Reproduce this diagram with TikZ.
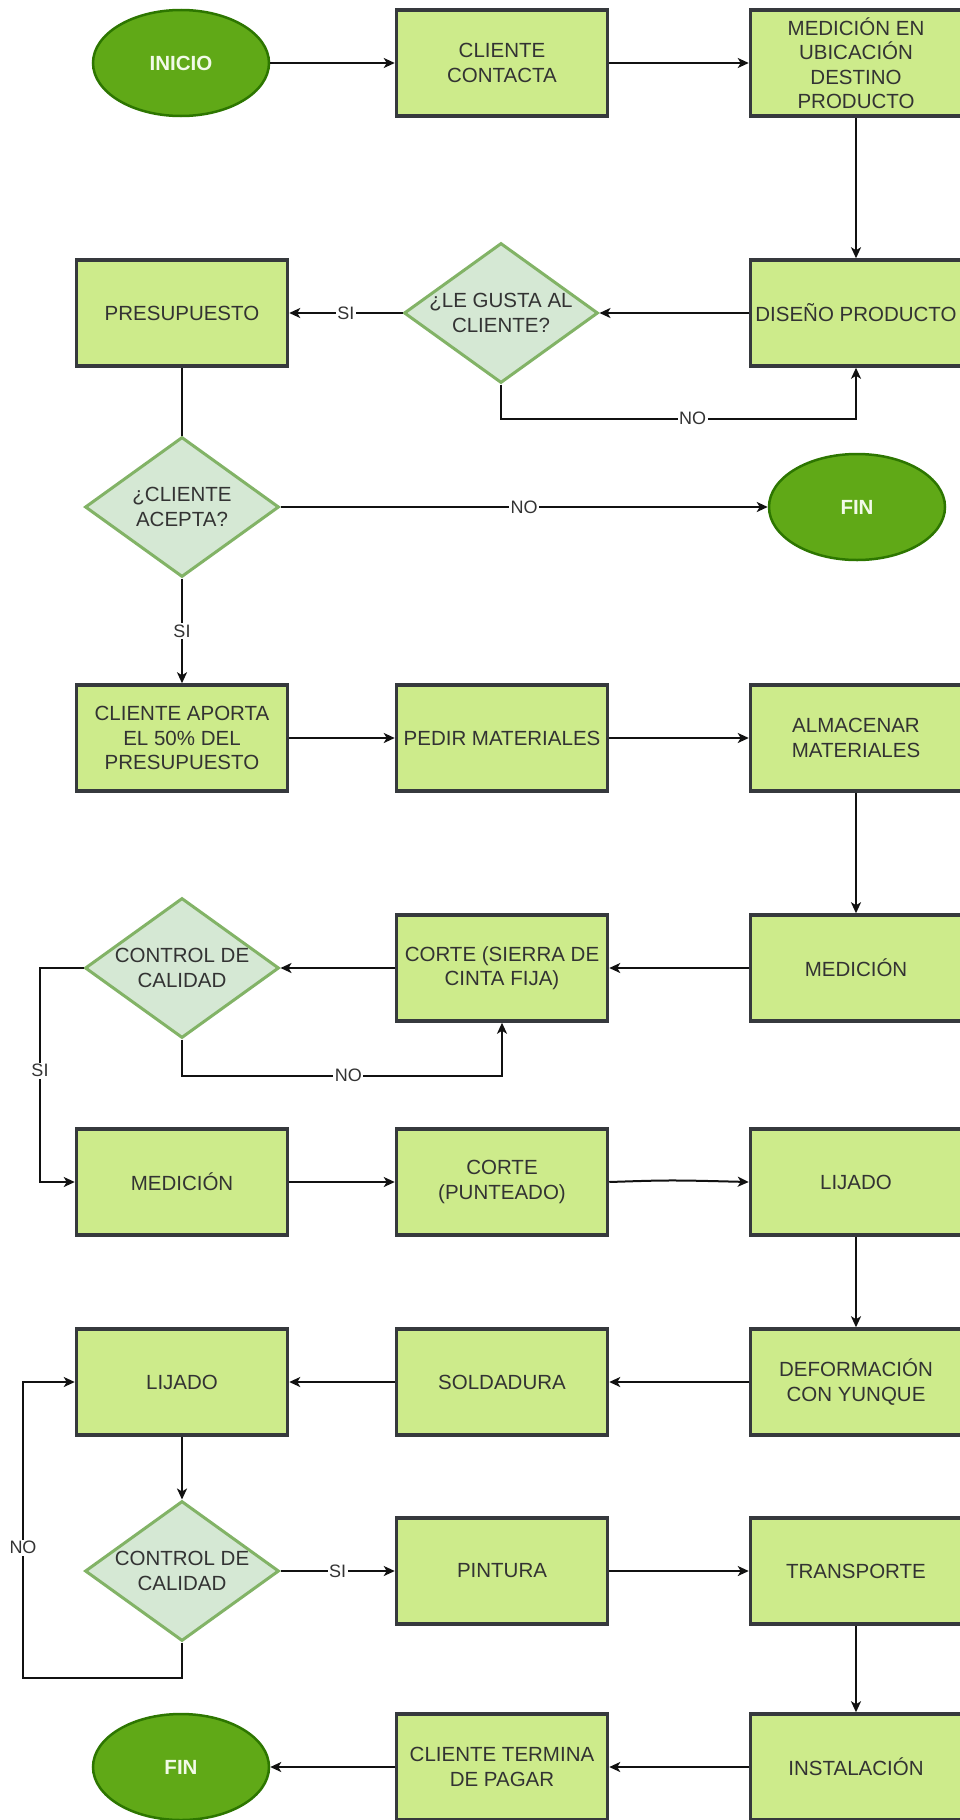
\documentclass[tikz,border=0pt]{standalone}
\usepackage{fontspec}
\setmainfont{Liberation Sans}
\usetikzlibrary{shapes.geometric,arrows.meta}
\definecolor{boxfill}{HTML}{CDEB8B}
\definecolor{boxline}{HTML}{36393D}
\definecolor{dfill}{HTML}{D5E8D4}
\definecolor{dline}{HTML}{82B366}
\definecolor{efill}{HTML}{60A917}
\definecolor{eline}{HTML}{2D7600}
\definecolor{etext}{HTML}{F2FAE8}
\definecolor{txt}{HTML}{333333}
\definecolor{conn}{HTML}{111111}
\newcommand\dl[1]{\makebox[90pt]{#1}}
\begin{document}
\begin{tikzpicture}[x=1pt,y=-1pt,
  proc/.style={rectangle,draw=boxline,fill=boxfill,line width=3.5pt,
    minimum width=211pt,minimum height=106pt,inner sep=2pt,align=center,
    text=txt,font=\fontsize{20.5}{24.5}\selectfont},
  term/.style={ellipse,draw=eline,fill=efill,line width=2.5pt,
    minimum width=176pt,minimum height=106pt,inner sep=0pt,align=center,
    text=etext,font=\fontsize{20.5}{24.5}\selectfont\bfseries},
  dec/.style={diamond,aspect=1.38,draw=dline,fill=dfill,line width=3pt,
    minimum width=194pt,minimum height=140pt,inner sep=0pt,align=center,
    text=txt,font=\fontsize{20.5}{24.5}\selectfont},
  arr/.style={draw=conn,line width=2pt,-{Stealth[length=11pt,width=10pt,inset=3pt]}},
  ln/.style={draw=conn,line width=2pt},
  lbl/.style={fill=white,inner sep=1.5pt,text=txt,font=\fontsize{18}{20}\selectfont}]
\useasboundingbox (0,0) rectangle (959,1820);
\fill[white] (0,0) rectangle (959,1820);

% row 1
\node[term] (ini) at (181,63) {INICIO};
\node[proc] (cc) at (502,63) {CLIENTE\\CONTACTA};
\node[proc] (mu) at (856,63) {MEDICIÓN EN\\UBICACIÓN\\DESTINO\\PRODUCTO};
% row 2
\node[proc] (pre) at (182,313) {PRESUPUESTO};
\node[dec] (lg) at (501,313) {\dl{¿LE GUSTA AL}\\\dl{CLIENTE?}};
\node[proc] (dp) at (856,313) {DISEÑO PRODUCTO};
% row 2b
\node[dec] (ca) at (182,507) {\dl{¿CLIENTE}\\\dl{ACEPTA?}};
\node[term] (fina) at (857,507) {FIN};
% row 3
\node[proc] (ap) at (182,738) {CLIENTE APORTA\\EL 50\% DEL\\PRESUPUESTO};
\node[proc] (pm) at (502,738) {PEDIR MATERIALES};
\node[proc] (al) at (856,738) {ALMACENAR\\MATERIALES};
% row 4
\node[dec] (ca1) at (182,968) {\dl{CONTROL DE}\\\dl{CALIDAD}};
\node[proc] (cs) at (502,968) {CORTE (SIERRA DE\\CINTA FIJA)};
\node[proc] (mea) at (856,968) {MEDICIÓN};
% row 5
\node[proc] (meb) at (182,1182) {MEDICIÓN};
\node[proc] (cp) at (502,1182) {CORTE\\(PUNTEADO)};
\node[proc] (lja) at (856,1182) {LIJADO};
% row 6
\node[proc] (ljb) at (182,1382) {LIJADO};
\node[proc] (so) at (502,1382) {SOLDADURA};
\node[proc] (de) at (856,1382) {DEFORMACIÓN\\CON YUNQUE};
% row 7
\node[dec] (ca2) at (182,1571) {\dl{CONTROL DE}\\\dl{CALIDAD}};
\node[proc] (pi) at (502,1571) {PINTURA};
\node[proc] (tr) at (856,1571) {TRANSPORTE};
% row 8
\node[term] (finb) at (181,1767) {FIN};
\node[proc] (ct) at (502,1767) {CLIENTE TERMINA\\DE PAGAR};
\node[proc] (ins) at (856,1767) {INSTALACIÓN};

\coordinate (nob) at (23,1678);
\coordinate (sil) at (40,968);

% connectors
\draw[arr] (ini.east) -- (cc.west);
\draw[arr] (cc.east) -- (mu.west);
\draw[arr] (mu.south) -- (dp.north);
\draw[arr] (dp.west) -- (lg.east);
\draw[arr] (lg.west) -- node[lbl]{SI} (pre.east);
\draw[arr] (lg.south) -- ++(0,34) -| node[lbl,pos=0.27]{NO} (dp.south);
\draw[ln] (pre.south) -- (ca.north);
\draw[arr] (ca.east) -- node[lbl]{NO} (fina.west);
\draw[arr] (ca.south) -- node[lbl]{SI} (ap.north);
\draw[arr] (ap.east) -- (pm.west);
\draw[arr] (pm.east) -- (al.west);
\draw[arr] (al.south) -- (mea.north);
\draw[arr] (mea.west) -- (cs.east);
\draw[arr] (cs.west) -- (ca1.east);
\draw[arr] (ca1.south) -- ++(0,36) -| node[lbl,pos=0.26]{NO} (cs.south);
\draw[arr] (ca1.west) -- (sil) |- node[lbl,pos=0.24]{SI} (meb.west);
\draw[arr] (meb.east) -- (cp.west);
\draw[arr] (cp.east) .. controls (670,1180) .. (lja.west);
\draw[arr] (lja.south) -- (de.north);
\draw[arr] (de.west) -- (so.east);
\draw[arr] (so.west) -- (ljb.east);
\draw[arr] (ljb.south) -- (ca2.north);
\draw[arr] (ca2.east) -- node[lbl]{SI} (pi.west);
\draw[arr] (ca2.south) |- (nob) |- node[lbl,pos=0.22]{NO} (ljb.west);
\draw[arr] (pi.east) -- (tr.west);
\draw[arr] (tr.south) -- (ins.north);
\draw[arr] (ins.west) -- (ct.east);
\draw[arr] (ct.west) -- (finb.east);
\end{tikzpicture}
\end{document}
